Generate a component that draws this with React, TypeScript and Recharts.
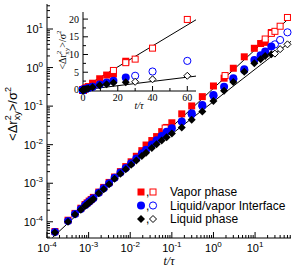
import React from "react";
import { ComposedChart, Line, Scatter, XAxis, YAxis } from "recharts";

// time grid of the filled (short run) points, t/tau
const times = [
  1.55e-4, 3.2e-4, 4.7e-4, 6.5e-4, 8.2e-4, 9.2e-4, 1.03e-3, 1.15e-3, 1.3e-3, 1.75e-3,
  2.3e-3, 3.1e-3, 4.2e-3, 5.8e-3, 7.8e-3, 0.0105, 0.014, 0.019, 0.024, 0.033,
  0.043, 0.057, 0.075, 0.1, 0.173, 0.3, 0.54, 1.0, 1.8, 3.0,
  5.5, 9.6, 13.6, 17.5, 24.6,
];
const vaporFilled = [
  5.6e-5, 1.1e-4, 1.65e-4, 2.25e-4, 2.8e-4, 3.1e-4, 3.45e-4, 3.8e-4, 4.3e-4, 5.9e-4,
  7.8e-4, 1.05e-3, 1.45e-3, 2.0e-3, 2.7e-3, 3.6e-3, 5.0e-3, 7.0e-3, 9.8e-3, 0.0128,
  0.0162, 0.0218, 0.028, 0.037, 0.063, 0.101, 0.176, 0.333, 0.53, 0.96,
  1.9, 3.16, 4.2, 4.5, 8.1,
];
const interfaceFilled = [
  5.4e-5, 1.05e-4, 1.6e-4, 2.15e-4, 2.7e-4, 3.0e-4, 3.3e-4, 3.65e-4, 4.1e-4, 5.7e-4,
  7.4e-4, 1.0e-3, 1.38e-3, 1.9e-3, 2.5e-3, 3.3e-3, 4.4e-3, 5.9e-3, 7.4e-3, 0.0101,
  0.013, 0.0168, 0.0215, 0.0267, 0.04, 0.065, 0.107, 0.195, 0.32, 0.53,
  0.9, 1.57, 2.1, 2.6, 3.5,
];
const liquidFilled = [
  5.3e-5, 1.0e-4, 1.55e-4, 2.05e-4, 2.55e-4, 2.85e-4, 3.15e-4, 3.45e-4, 3.9e-4, 5.5e-4,
  7.0e-4, 9.4e-4, 1.3e-3, 1.75e-3, 2.3e-3, 3.0e-3, 3.9e-3, 5.1e-3, 6.2e-3, 8.2e-3,
  0.0102, 0.0128, 0.0155, 0.0195, 0.0277, 0.044, 0.072, 0.135, 0.25, 0.42,
  0.78, 1.29, 1.64, 2.0, 2.2,
];

// open symbols (long runs)
const vaporOpenT = [0.069, 1.9, 17.5, 24.6, 30, 40, 60];
const vaporOpen = [0.027, 0.62, 5.5, 7.7, 8.7, 11.8, 19.9];
const interfaceOpenT = [0.3, 0.54, 1.0, 3.0, 5.5, 30, 40, 60];
const interfaceOpen = [0.061, 0.1, 0.185, 0.5, 0.85, 4.0, 5.2, 8.2];
const liquidOpenT = [30, 40, 60];
const liquidOpen = [2.3, 3.0, 4.0];

// fitted lines
const vaporFitT = [1.35e-4, 73];
const vaporFit = [3.9e-5, 21.2];
const liquidFitT = [0.1, 73];
const liquidFit = [0.019, 4.8];
const insetVaporFitT = [0, 65];
const insetVaporFit = [0.6, 19.8];
const insetLiquidFitT = [0, 65];
const insetLiquidFit = [0, 3.9];

// axis ticks
const xMajors = [1e-4, 1e-3, 1e-2, 1e-1, 1, 10];
const xTickLabels = ["-4", "-3", "-2", "-1", "0", "1"];
const yMajors = [1e-4, 1e-3, 1e-2, 1e-1, 1, 10];
const yTickLabels = ["-4", "-3", "-2", "-1", "0", "1"];
const insetXMajors = [0, 20, 40, 60];
const insetXMinors = [10, 30, 50];
const insetYMajors = [0, 5, 10, 15, 20];
const insetYMinors = [2.5, 7.5, 12.5, 17.5];

const X_DOMAIN = [1e-4, 73];
const Y_DOMAIN = [3.8e-5, 44.5];

const SANS = "'Liberation Sans', Arial, Helvetica, sans-serif";
const SERIF = "'Liberation Serif', 'Times New Roman', serif";
const RED = "#ff0000";
const BLUE = "#0000ff";

const pts = (t: number[], y: number[]) => t.map((v, i) => ({ t: v, y: y[i] }));

const logMinors = (lo: number, hi: number) => {
  const out: number[] = [];
  for (let e = -5; e <= 1; e++) {
    for (let k = 2; k <= 9; k++) {
      const v = k * Math.pow(10, e);
      if (v > lo && v < hi) out.push(v);
    }
  }
  return out;
};

const idxOf = (v: number, arr: number[]) =>
  arr.findIndex((m) => Math.abs(m - v) <= Math.abs(m) * 1e-6 + 1e-9);

const mainXTicks = [...xMajors, ...logMinors(X_DOMAIN[0], X_DOMAIN[1])].sort((a, b) => a - b);
const mainYTicks = [...yMajors, ...logMinors(Y_DOMAIN[0], Y_DOMAIN[1])].sort((a, b) => a - b);

// markers
function FilledSquare({ cx, cy, c }: any) {
  return <rect x={cx - 3.5} y={cy - 3.5} width={7} height={7} fill={c} />;
}
function OpenSquare({ cx, cy, c }: any) {
  return <rect x={cx - 3} y={cy - 3} width={6} height={6} fill="#fff" stroke={c} strokeWidth={1} />;
}
function FilledCircle({ cx, cy, c }: any) {
  return <circle cx={cx} cy={cy} r={4} fill={c} />;
}
function OpenCircle({ cx, cy, c }: any) {
  return <circle cx={cx} cy={cy} r={3.6} fill="none" stroke={c} strokeWidth={1} />;
}
function FilledDiamond({ cx, cy }: any) {
  return <path d={`M${cx},${cy - 4}L${cx + 4},${cy}L${cx},${cy + 4}L${cx - 4},${cy}Z`} fill="#000" />;
}
function OpenDiamond({ cx, cy }: any) {
  return (
    <path
      d={`M${cx},${cy - 3.5}L${cx + 3.5},${cy}L${cx},${cy + 3.5}L${cx - 3.5},${cy}Z`}
      fill="#fff"
      stroke="#000"
      strokeWidth={1}
    />
  );
}

// tick renderers (tickSize 0, so x/y sit on the axis line)
const makeTick =
  (side: "bottom" | "top" | "left" | "right", majors: number[], labels: string[] | null, big: number, small: number, kind: "log" | "lin") =>
  (p: any) => {
    const v = p.payload.value;
    const i = idxOf(v, majors);
    const len = i >= 0 ? big : small;
    let line;
    if (side === "bottom") line = <line x1={p.x} x2={p.x} y1={p.y} y2={p.y - len} stroke="#000" />;
    else if (side === "top") line = <line x1={p.x} x2={p.x} y1={p.y} y2={p.y + len} stroke="#000" />;
    else if (side === "left") line = <line x1={p.x} x2={p.x + len} y1={p.y} y2={p.y} stroke="#000" />;
    else line = <line x1={p.x} x2={p.x - len} y1={p.y} y2={p.y} stroke="#000" />;
    let label = null;
    if (labels && i >= 0) {
      if (kind === "log") {
        label =
          side === "bottom" ? (
            <text x={p.x} y={p.y + 14} textAnchor="middle" fontFamily={SANS} fontSize={11} fill="#000">
              10<tspan dy={-5} fontSize={8}>{labels[i]}</tspan>
            </text>
          ) : (
            <text x={p.x - 4} y={p.y + 4} textAnchor="end" fontFamily={SANS} fontSize={11} fill="#000">
              10<tspan dy={-5} fontSize={8}>{labels[i]}</tspan>
            </text>
          );
      } else {
        label =
          side === "bottom" ? (
            <text x={p.x} y={p.y + 10} textAnchor="middle" fontFamily={SERIF} fontSize={10} fill="#000">
              {labels[i]}
            </text>
          ) : (
            <text x={p.x - 4} y={p.y + 3.5} textAnchor="end" fontFamily={SERIF} fontSize={10} fill="#000">
              {labels[i]}
            </text>
          );
      }
    }
    return (
      <g>
        {line}
        {label}
      </g>
    );
  };

const axisLine = { stroke: "#000", strokeWidth: 1 };

function MainChart() {
  return (
    <ComposedChart width={294} height={270} margin={{ top: 4, right: 3, left: 0, bottom: 0 }}>
      <XAxis
        xAxisId={0}
        dataKey="t"
        type="number"
        scale="log"
        domain={X_DOMAIN}
        ticks={mainXTicks}
        interval={0}
        tickSize={0}
        tickMargin={0}
        tickLine={false}
        axisLine={axisLine}
        height={32}
        tick={makeTick("bottom", xMajors, xTickLabels, 6, 3, "log")}
      />
      <XAxis
        xAxisId="top"
        orientation="top"
        dataKey="t"
        type="number"
        scale="log"
        domain={X_DOMAIN}
        allowDataOverflow
        ticks={mainXTicks}
        interval={0}
        tickSize={0}
        tickMargin={0}
        tickLine={false}
        axisLine={axisLine}
        height={0}
        tick={makeTick("top", xMajors, null, 6, 3, "log")}
      />
      <YAxis
        yAxisId={0}
        dataKey="y"
        type="number"
        scale="log"
        domain={Y_DOMAIN}
        ticks={mainYTicks}
        interval={0}
        tickSize={0}
        tickMargin={0}
        tickLine={false}
        axisLine={axisLine}
        width={47}
        tick={makeTick("left", yMajors, yTickLabels, 6, 3, "log")}
      />
      <YAxis
        yAxisId="right"
        orientation="right"
        dataKey="y"
        type="number"
        scale="log"
        domain={Y_DOMAIN}
        allowDataOverflow
        ticks={mainYTicks}
        interval={0}
        tickSize={0}
        tickMargin={0}
        tickLine={false}
        axisLine={axisLine}
        width={0}
        tick={makeTick("right", yMajors, null, 6, 3, "log")}
      />
      <Line data={pts(vaporFitT, vaporFit)} dataKey="y" stroke="#000" strokeWidth={1} dot={false} isAnimationActive={false} />
      <Line data={pts(liquidFitT, liquidFit)} dataKey="y" stroke="#000" strokeWidth={1} dot={false} isAnimationActive={false} />
      <Scatter data={pts(times, vaporFilled)} dataKey="y" isAnimationActive={false} shape={(p: any) => <FilledSquare cx={p.cx} cy={p.cy} c={RED} />} />
      <Scatter data={pts(vaporOpenT, vaporOpen)} dataKey="y" isAnimationActive={false} shape={(p: any) => <OpenSquare cx={p.cx} cy={p.cy} c={RED} />} />
      <Scatter data={pts(times, interfaceFilled)} dataKey="y" isAnimationActive={false} shape={(p: any) => <FilledCircle cx={p.cx} cy={p.cy} c={BLUE} />} />
      <Scatter data={pts(interfaceOpenT, interfaceOpen)} dataKey="y" isAnimationActive={false} shape={(p: any) => <OpenCircle cx={p.cx} cy={p.cy} c={BLUE} />} />
      <Scatter data={pts(times, liquidFilled)} dataKey="y" isAnimationActive={false} shape={(p: any) => <FilledDiamond cx={p.cx} cy={p.cy} />} />
      <Scatter data={pts(liquidOpenT, liquidOpen)} dataKey="y" isAnimationActive={false} shape={(p: any) => <OpenDiamond cx={p.cx} cy={p.cy} />} />
    </ComposedChart>
  );
}

function InsetChart() {
  return (
    <ComposedChart width={145} height={108} margin={{ top: 4, right: 4, left: 0, bottom: 0 }}>
      <XAxis
        xAxisId={0}
        dataKey="t"
        type="number"
        domain={[0, 65]}
        ticks={[...insetXMajors, ...insetXMinors].sort((a, b) => a - b)}
        interval={0}
        tickSize={0}
        tickMargin={0}
        tickLine={false}
        axisLine={axisLine}
        height={25}
        tick={makeTick("bottom", insetXMajors, insetXMajors.map(String), 5, 3, "lin")}
      />
      <XAxis
        xAxisId="top"
        orientation="top"
        dataKey="t"
        type="number"
        domain={[0, 65]}
        allowDataOverflow
        ticks={[...insetXMajors, ...insetXMinors].sort((a, b) => a - b)}
        interval={0}
        tickSize={0}
        tickMargin={0}
        tickLine={false}
        axisLine={axisLine}
        height={0}
        tick={makeTick("top", insetXMajors, null, 5, 3, "lin")}
      />
      <YAxis
        yAxisId={0}
        dataKey="y"
        type="number"
        domain={[-0.3, 22]}
        ticks={[...insetYMajors, ...insetYMinors].sort((a, b) => a - b)}
        interval={0}
        tickSize={0}
        tickMargin={0}
        tickLine={false}
        axisLine={axisLine}
        width={28}
        tick={makeTick("left", insetYMajors, insetYMajors.map(String), 5, 3, "lin")}
      />
      <YAxis
        yAxisId="right"
        orientation="right"
        dataKey="y"
        type="number"
        domain={[-0.3, 22]}
        allowDataOverflow
        ticks={[...insetYMajors, ...insetYMinors].sort((a, b) => a - b)}
        interval={0}
        tickSize={0}
        tickMargin={0}
        tickLine={false}
        axisLine={axisLine}
        width={0}
        tick={makeTick("right", insetYMajors, null, 5, 3, "lin")}
      />
      <Line data={pts(insetVaporFitT, insetVaporFit)} dataKey="y" stroke="#000" strokeWidth={1} dot={false} isAnimationActive={false} />
      <Line data={pts(insetLiquidFitT, insetLiquidFit)} dataKey="y" stroke="#000" strokeWidth={1} dot={false} isAnimationActive={false} />
      <Scatter data={pts(times, vaporFilled)} dataKey="y" isAnimationActive={false} shape={(p: any) => <FilledSquare cx={p.cx} cy={p.cy} c={RED} />} />
      <Scatter data={pts(vaporOpenT, vaporOpen)} dataKey="y" isAnimationActive={false} shape={(p: any) => <OpenSquare cx={p.cx} cy={p.cy} c={RED} />} />
      <Scatter data={pts(times, interfaceFilled)} dataKey="y" isAnimationActive={false} shape={(p: any) => <FilledCircle cx={p.cx} cy={p.cy} c={BLUE} />} />
      <Scatter data={pts(interfaceOpenT, interfaceOpen)} dataKey="y" isAnimationActive={false} shape={(p: any) => <OpenCircle cx={p.cx} cy={p.cy} c={BLUE} />} />
      <Scatter data={pts(times, liquidFilled)} dataKey="y" isAnimationActive={false} shape={(p: any) => <FilledDiamond cx={p.cx} cy={p.cy} />} />
      <Scatter data={pts(liquidOpenT, liquidOpen)} dataKey="y" isAnimationActive={false} shape={(p: any) => <OpenDiamond cx={p.cx} cy={p.cy} />} />
    </ComposedChart>
  );
}

const legendRows = [
  { label: "Vapor phase", y: 192 },
  { label: "Liquid/vapor Interface", y: 205.5 },
  { label: "Liquid phase", y: 219 },
];

function Overlay() {
  return (
    <svg width={294} height={270} style={{ position: "absolute", left: 0, top: 0, pointerEvents: "none" }}>
      {/* main axis labels */}
      <text transform="rotate(-90 17 114)" x={17} y={114} textAnchor="middle" fontFamily={SANS} fontSize={13} fill="#000">
        &lt;Δr<tspan dy={-6} fontSize={9}>2</tspan>
        <tspan dx={-5} dy={9} fontSize={9}>xy</tspan>
        <tspan dy={-3} fontSize={13}>&gt;/σ</tspan>
        <tspan dy={-6} fontSize={9}>2</tspan>
      </text>
      <text x={169} y={265} textAnchor="middle" fontFamily={SERIF} fontStyle="italic" fontSize={12} fill="#000">
        t/τ
      </text>
      {/* inset axis labels */}
      <text transform="rotate(-90 66 50)" x={66} y={50} textAnchor="middle" fontFamily={SERIF} fontSize={10} fill="#000">
        &lt;Δr<tspan dy={-5} fontSize={7}>2</tspan>
        <tspan dx={-4} dy={8} fontSize={7}>xy</tspan>
        <tspan dy={-3} fontSize={10}>&gt;/σ</tspan>
        <tspan dy={-5} fontSize={7}>2</tspan>
      </text>
      <text x={139} y={109} textAnchor="middle" fontFamily={SERIF} fontStyle="italic" fontSize={10} fill="#000">
        t/τ
      </text>
      {/* legend */}
      <FilledSquare cx={141} cy={legendRows[0].y} c={RED} />
      <OpenSquare cx={153} cy={legendRows[0].y} c={RED} />
      <FilledCircle cx={141} cy={legendRows[1].y} c={BLUE} />
      <OpenCircle cx={153} cy={legendRows[1].y} c={BLUE} />
      <FilledDiamond cx={141} cy={legendRows[2].y} />
      <OpenDiamond cx={153} cy={legendRows[2].y} />
      {legendRows.map((r) => (
        <g key={r.label}>
          <text x={146} y={r.y + 4} fontFamily={SANS} fontSize={12} fill="#000">,</text>
          <text x={170} y={r.y + 4} fontFamily={SANS} fontSize={12} fill="#000">
            {r.label}
          </text>
        </g>
      ))}
    </svg>
  );
}

export default function App() {
  return (
    <div style={{ position: "absolute", left: 0, top: 0, width: 294, height: 270, background: "#fff" }}>
      <MainChart />
      <div style={{ position: "absolute", left: 55, top: 8 }}>
        <InsetChart />
      </div>
      <Overlay />
    </div>
  );
}
